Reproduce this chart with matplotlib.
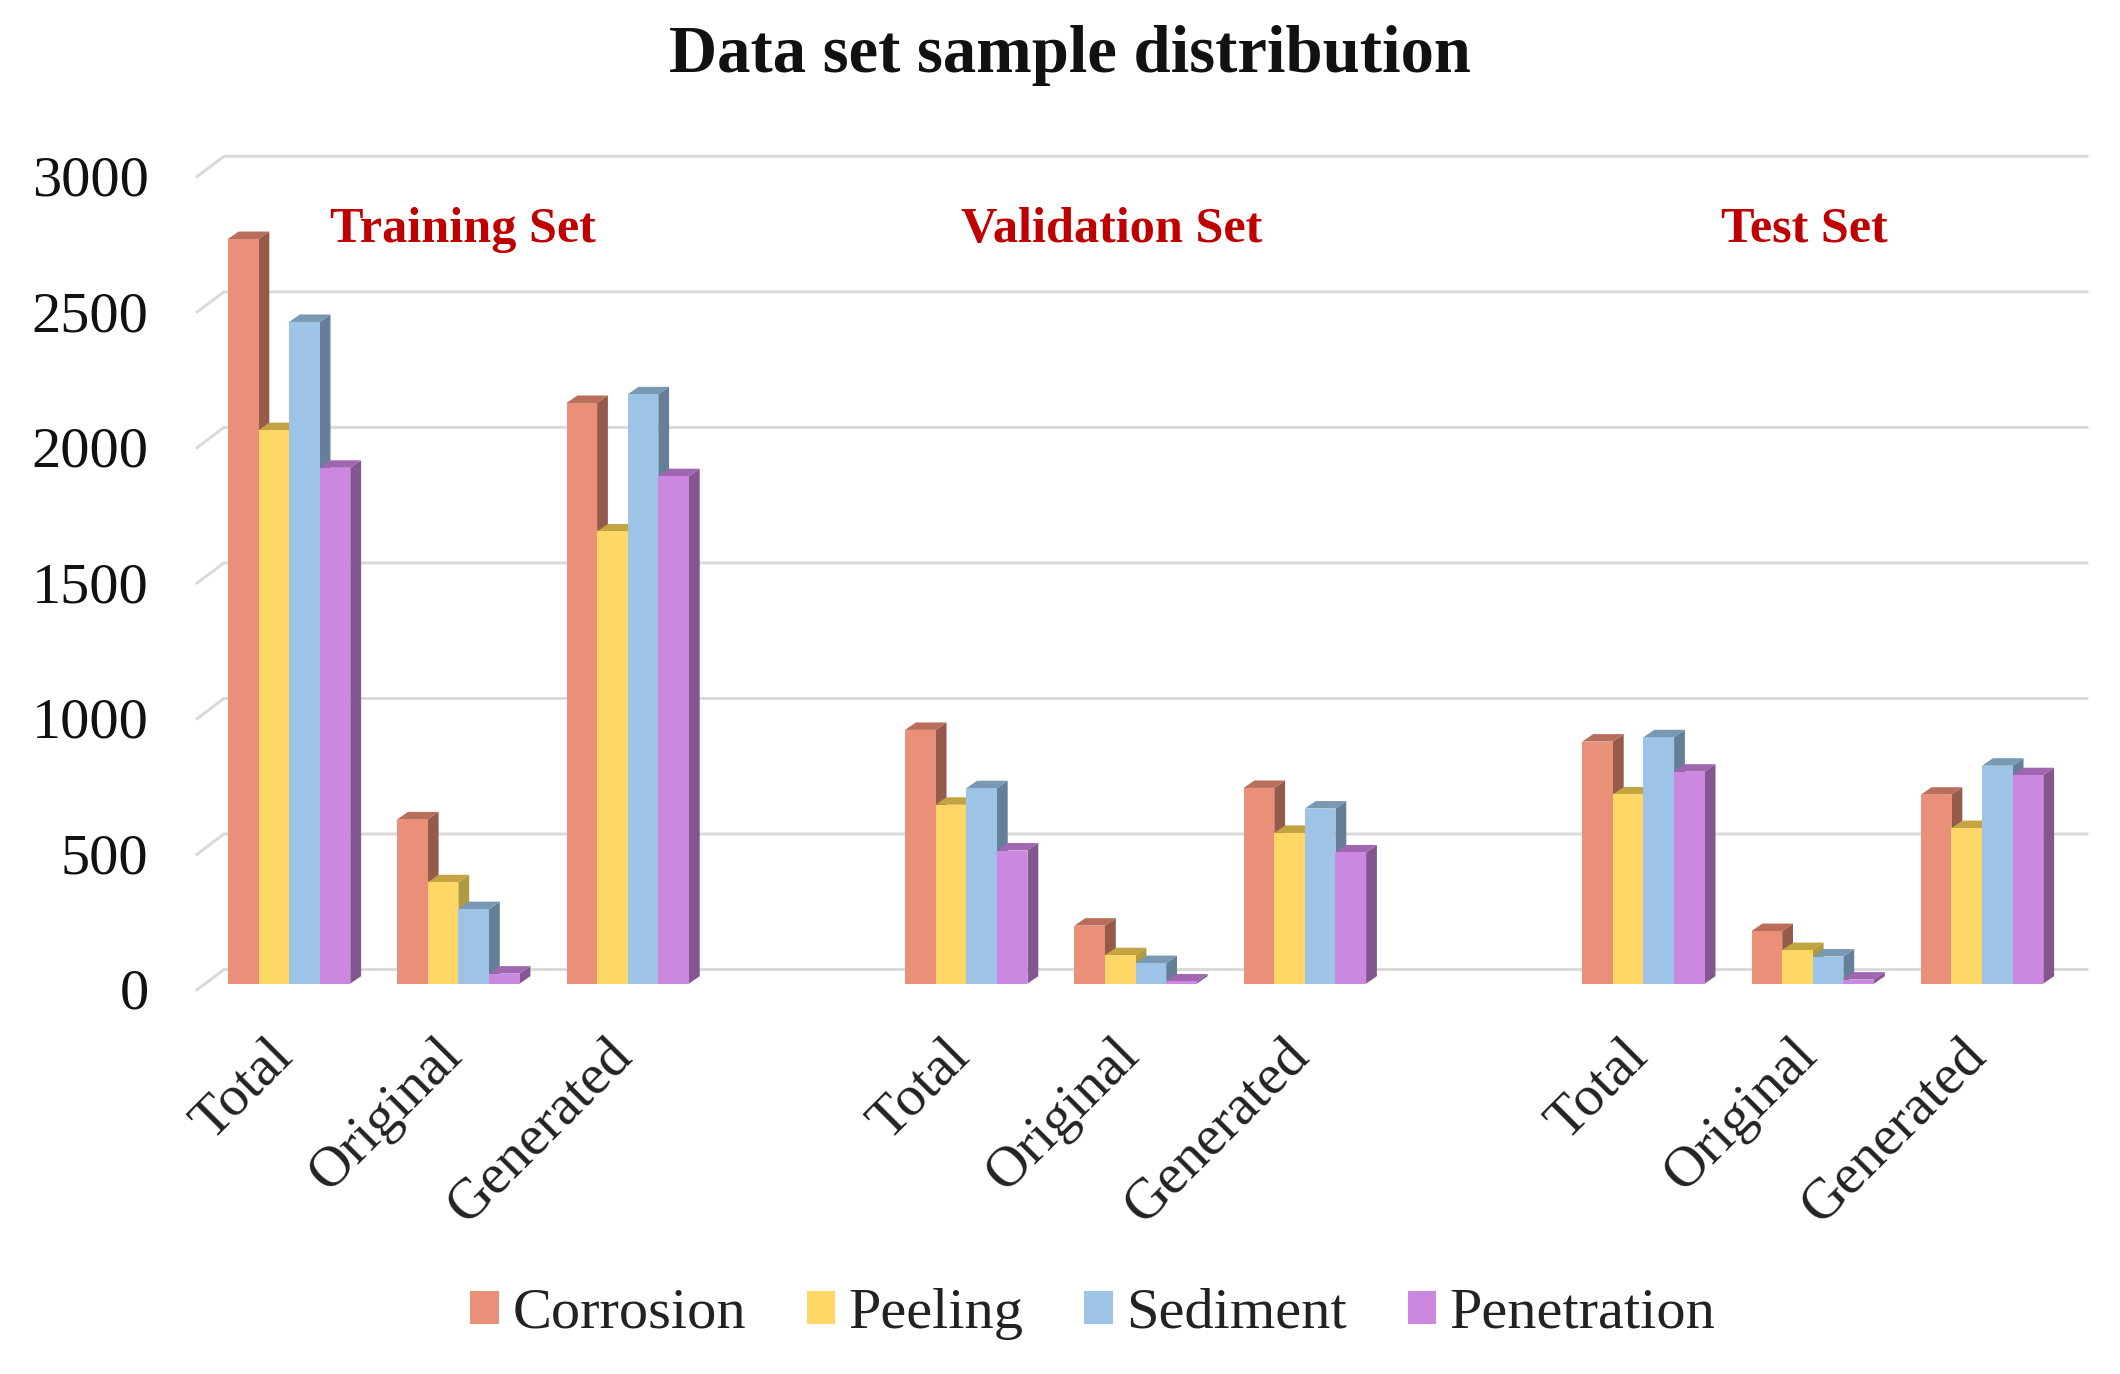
import numpy as np
import matplotlib
matplotlib.use("Agg")
import matplotlib.pyplot as plt
from matplotlib.patches import Polygon, Patch
from matplotlib.transforms import ScaledTranslation

plt.rcParams['font.family'] = ['Liberation Serif', 'DejaVu Serif']

# chart data
categories = ['Total', 'Original', 'Generated', '', 'Total', 'Original', 'Generated', '', 'Total', 'Original', 'Generated']
corrosion = [2747, 606, 2142, 0, 936, 214, 722, 0, 893, 194, 697]
peeling = [2042, 374, 1668, 0, 660, 105, 556, 0, 698, 124, 574]
sediment = [2441, 275, 2174, 0, 721, 76, 646, 0, 909, 100, 804]
penetration = [1903, 37, 1872, 0, 491, 8, 484, 0, 782, 15, 769]
y_ticks = [0, 500, 1000, 1500, 2000, 2500, 3000]
set_names = ['Training Set', 'Validation Set', 'Test Set']
set_pos = [1.024, 4.858, 8.948]

names = ['Corrosion', 'Peeling', 'Sediment', 'Penetration']
series = [corrosion, peeling, sediment, penetration]
front = ['#EB9078', '#FFD766', '#9DC3E6', '#CC88E0']
side = ['#965A4B', '#B09A40', '#667F98', '#845690']
top = ['#B86E5A', '#C4A342', '#7898B4', '#A066B0']
grid_col = '#D9D9D9'

# pixel layout of the figure
W, H = 2120, 1374
PX_X = 169.3      # px per category
PX_Y = 0.2727     # px per value unit
X0 = 289.1        # px of category 0 centre
Y0 = 988.8        # px of value 0 on the bar fronts
LEFT, RIGHT, TOP = 197, 2087, 120

fig = plt.figure(figsize=(W / 100, H / 100), dpi=100)
ax = fig.add_axes([LEFT / W, 1 - Y0 / H, (RIGHT - LEFT) / W, (Y0 - TOP) / H])
ax.set_xlim((LEFT - X0) / PX_X, (RIGHT - X0) / PX_X)
ax.set_ylim(0, (Y0 - TOP) / PX_Y)

bar_w = 30.6 / PX_X
dx = 10.8 / PX_X
dy = 7.5 / PX_Y

# 3d style walls: back gridlines plus the slanted bit on the left
back_x = (224 - X0) / PX_X
wall_x = (LEFT - X0) / PX_X
back_off = (Y0 - 974.6) / PX_Y
wall_off = (Y0 - 995) / PX_Y
label_off = (Y0 - 994) / PX_Y
for v in y_ticks:
    ax.plot([wall_x, back_x, (RIGHT - X0) / PX_X], [v + wall_off, v + back_off, v + back_off],
            color=grid_col, lw=2.1, clip_on=False, zorder=1, solid_joinstyle='miter')

# side, top, then front face of each bar, left to right
z = 2
for i in range(len(categories)):
    if categories[i] == '':
        continue
    for s in range(4):
        val = series[s][i]
        l = i + (s - 2) * bar_w
        r = l + bar_w
        ax.add_patch(Polygon([(r, 0), (r + dx, dy), (r + dx, val + dy), (r, val)], closed=True,
                             fc=side[s], ec='none', zorder=z))
        ax.add_patch(Polygon([(l, val), (l + dx, val + dy), (r + dx, val + dy), (r, val)], closed=True,
                             fc=top[s], ec='none', zorder=z))
        ax.bar(l, val, width=bar_w, align='edge', color=front[s], zorder=z + 1)
        z += 2

for sp in ax.spines.values():
    sp.set_visible(False)
ax.set_facecolor('none')

ax.set_yticks([v + label_off for v in y_ticks])
ax.set_yticklabels([str(v) for v in y_ticks])
ax.tick_params(axis='y', length=0, pad=34.9, labelsize=42, labelcolor='#111111')

tick_idx = [i for i in range(len(categories)) if categories[i] != '']
ax.set_xticks(tick_idx)
ax.set_xticklabels([categories[i] for i in tick_idx], rotation=45, ha='right', va='center',
                   rotation_mode='anchor')
ax.tick_params(axis='x', length=0, pad=42, labelsize=41.5, labelcolor='#222222')
shift = ScaledTranslation(-4 / 100, 0, fig.dpi_scale_trans)
for lab in ax.get_xticklabels():
    lab.set_transform(lab.get_transform() + shift)

for name, p in zip(set_names, set_pos):
    ax.text(p, 2781, name, color='#C00000', fontsize=36.2, fontweight='bold', ha='center', va='center', zorder=100)

fig.text(1070 / W, 1 - 56 / H, 'Data set sample distribution', fontsize=48, fontweight='bold',
         ha='center', va='center', color='#111111')

handles = [Patch(fc=c, ec='none', label=n) for c, n in zip(front, names)]
fig.legend(handles=handles, loc='center', bbox_to_anchor=(1093 / W, 1 - 1314 / H), ncol=4, frameon=False,
           fontsize=42, handlelength=0.49, handleheight=0.49, handletextpad=0.23, columnspacing=1.04,
           labelcolor='#222222')

fig.savefig('out.png', dpi=100)
